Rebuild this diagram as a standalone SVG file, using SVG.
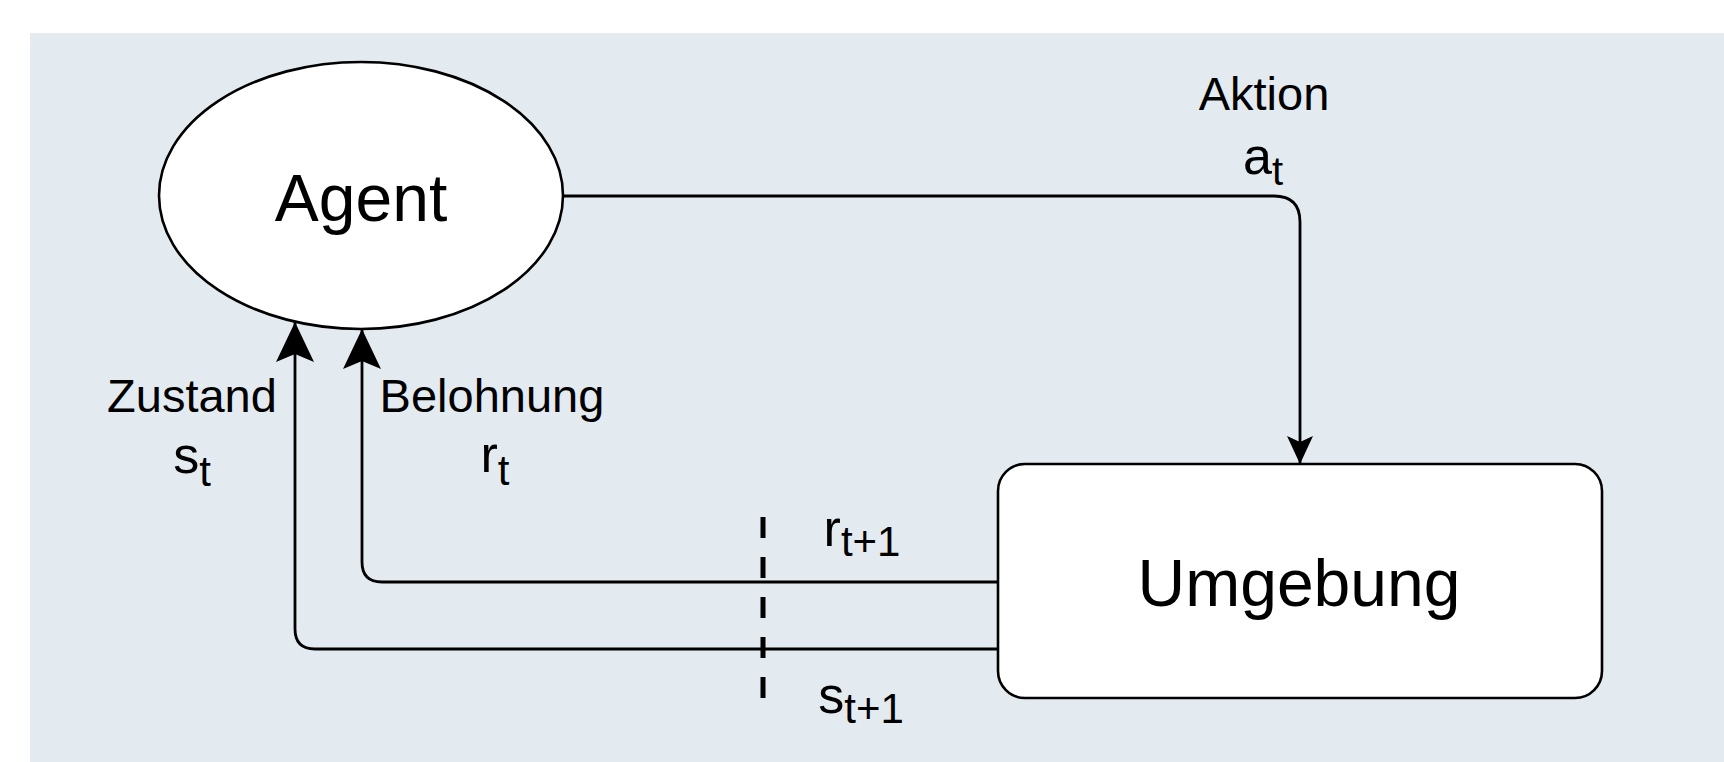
<svg xmlns="http://www.w3.org/2000/svg" width="1724" height="762" viewBox="0 0 1724 762">
<style>
.lbl{font-family:"Liberation Sans",Arial,sans-serif;fill:#000;text-anchor:middle}
.node{fill:#fff;stroke:#000;stroke-width:2.6}
.edge{fill:none;stroke:#000;stroke-width:2.8}
</style>
<defs>
<marker id="big" markerUnits="userSpaceOnUse" viewBox="0 0 40 38" refX="40" refY="19" markerWidth="40" markerHeight="38" orient="auto">
<path d="M0,0 L40,19 L0,38 L8,19 Z" fill="#000"/>
</marker>
<marker id="small" markerUnits="userSpaceOnUse" viewBox="0 0 28 26" refX="28" refY="13" markerWidth="28" markerHeight="26" orient="auto">
<path d="M0,0 L28,13 L0,26 L6,13 Z" fill="#000"/>
</marker>
</defs>
<rect x="30" y="33" width="1694" height="729" fill="#e3ebf1"/>
<g id="connectors">
<path id="edge-aktion" class="edge" d="M563,196 H1274 Q1300,196 1300,222 V464" marker-end="url(#small)"/>
<path id="edge-belohnung" class="edge" d="M997,582 H382 Q362,582 362,562 V329" marker-end="url(#big)"/>
<path id="edge-zustand" class="edge" d="M997,649 H315 Q295,649 295,629 V322" marker-end="url(#big)"/>
<line id="cut" x1="763" y1="517" x2="763" y2="700" stroke="#000" stroke-width="5" stroke-dasharray="21 19"/>
</g>
<g id="agent">
<ellipse class="node" cx="361" cy="195.5" rx="202" ry="133.5"/>
<text class="lbl" x="361" y="221" font-size="66">Agent</text>
</g>
<g id="umgebung">
<rect class="node" x="998" y="464" width="604" height="234" rx="27" ry="27"/>
<text class="lbl" x="1299" y="606" font-size="66">Umgebung</text>
</g>
<g id="labels">
<text class="lbl" x="1264" y="110" font-size="47">Aktion</text>
<text class="lbl" x="1263" y="174"><tspan font-size="52">a</tspan><tspan font-size="40" dy="11">t</tspan></text>
<text class="lbl" x="192" y="412" font-size="47">Zustand</text>
<text class="lbl" x="192" y="473"><tspan font-size="52">s</tspan><tspan font-size="42" dy="13">t</tspan></text>
<text class="lbl" x="492" y="412" font-size="47">Belohnung</text>
<text class="lbl" x="495" y="472"><tspan font-size="52">r</tspan><tspan font-size="42" dy="13">t</tspan></text>
<text class="lbl" x="862" y="546"><tspan font-size="52">r</tspan><tspan font-size="42" dy="10">t+1</tspan></text>
<text class="lbl" x="861" y="713"><tspan font-size="52">s</tspan><tspan font-size="42" dy="10">t+1</tspan></text>
</g>
</svg>
